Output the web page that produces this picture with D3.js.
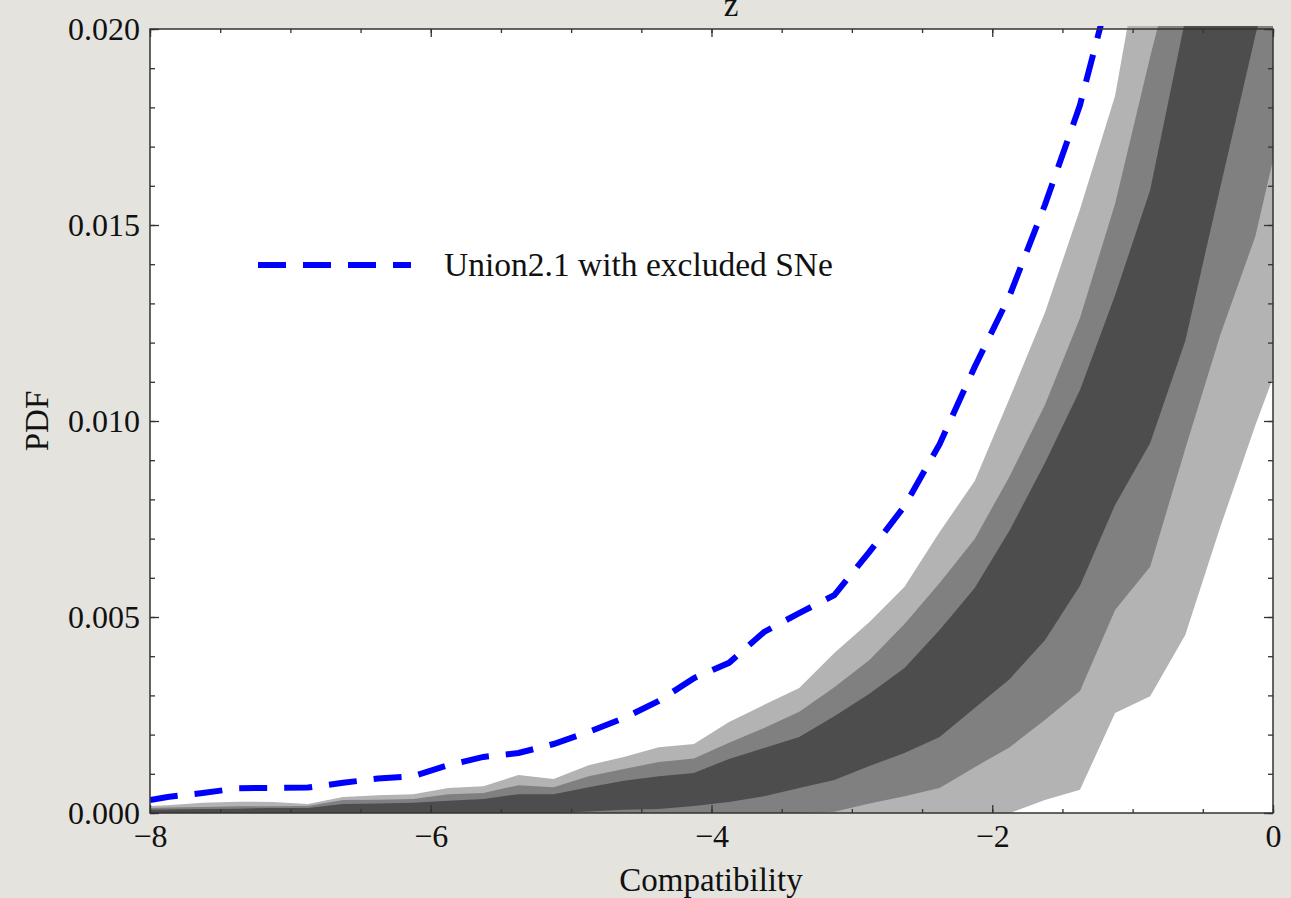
<!DOCTYPE html>
<html>
<head>
  <meta charset="utf-8">
  <title>PDF vs Compatibility</title>
  <style>
    body { margin: 0; background: #e4e3de; }
    svg { display: block; }
    .tick text { font-family: "Liberation Serif", "DejaVu Serif", serif; font-size: 32px; fill: #111; }
    .tick line { stroke: #333; stroke-width: 1.3; }
    .lbl { font-family: "Liberation Serif", "DejaVu Serif", serif; font-size: 33px; fill: #111; }
  </style>
</head>
<body>
<script src="https://cdn.jsdelivr.net/npm/d3@7"></script>
<script>
// compatibility grid (bin centres plus the two ends)
const compat = [-8, -7.875, -7.625, -7.375, -7.125, -6.875, -6.625, -6.375, -6.125, -5.875,
  -5.625, -5.375, -5.125, -4.875, -4.625, -4.375, -4.125, -3.875, -3.625, -3.375,
  -3.125, -2.875, -2.625, -2.375, -2.125, -1.875, -1.625, -1.375, -1.125, -0.875,
  -0.625, -0.375, -0.125, 0];

// PDF values, in units of 1e-3
const union21 = [0.33, 0.41, 0.51, 0.63, 0.64, 0.65, 0.77, 0.88, 0.94, 1.22,
  1.43, 1.53, 1.76, 2.07, 2.42, 2.86, 3.44, 3.83, 4.62, 5.10,
  5.56, 6.66, 7.83, 9.41, 11.38, 13.21, 15.51, 18.06, 21.5, null,
  null, null, null, null];

// outer band (light)
const outerLo = [0, 0, 0, 0, 0, 0, 0, 0, 0, 0,
  0, 0, 0, 0, 0, 0, 0, 0, 0, 0,
  0, 0, 0, 0, 0, 0, 0.33, 0.59, 2.55, 2.98,
  4.54, 7.3, 9.9, 11.1];
const outerHi = [0.18, 0.20, 0.26, 0.29, 0.28, 0.23, 0.41, 0.45, 0.48, 0.64,
  0.68, 0.97, 0.87, 1.22, 1.43, 1.68, 1.76, 2.32, 2.76, 3.19,
  4.08, 4.87, 5.77, 7.17, 8.47, 10.59, 12.76, 15.4, 18.3, 23.3,
  25, 27, 29, 30];

// middle band
const midLo = [0, 0, 0, 0, 0, 0, 0, 0, 0, 0,
  0, 0, 0, 0, 0, 0, 0, 0, 0, 0,
  0.03, 0.24, 0.43, 0.64, 1.17, 1.68, 2.37, 3.11, 5.18, 6.28,
  9.29, 12.2, 14.72, 16.66];
const midHi = [0.13, 0.14, 0.15, 0.17, 0.17, 0.18, 0.33, 0.34, 0.36, 0.48,
  0.51, 0.71, 0.66, 0.94, 1.12, 1.30, 1.39, 1.79, 2.17, 2.58,
  3.21, 3.90, 4.82, 5.87, 6.99, 8.60, 10.41, 12.63, 15.54, 19.29,
  22.8, 26, 28, 29];

// inner band (dark)
const innerLo = [0, 0, 0, 0, 0, 0, 0, 0, 0, 0,
  0, 0, 0, 0.04, 0.08, 0.10, 0.18, 0.28, 0.43, 0.64,
  0.84, 1.20, 1.53, 1.94, 2.68, 3.42, 4.41, 5.8, 7.86, 9.44,
  12.04, 15.97, 19.85, 21.5];
const innerHi = [0.08, 0.09, 0.10, 0.11, 0.13, 0.13, 0.23, 0.24, 0.26, 0.31,
  0.36, 0.48, 0.48, 0.66, 0.82, 0.94, 1.02, 1.38, 1.66, 1.94,
  2.47, 3.04, 3.70, 4.67, 5.74, 7.22, 8.93, 10.79, 13.21, 15.89,
  20.25, 24, 26, 27];

const xMajor = [-8, -6, -4, -2, 0];
const yMajor = [0, 0.005, 0.010, 0.015, 0.020];

const W = 1291, H = 898;
const margin = { top: 29, right: 18, bottom: 85, left: 150 };
const width = W - margin.left - margin.right;
const height = H - margin.top - margin.bottom;

const svg = d3.select("body").append("svg")
  .attr("width", W)
  .attr("height", H);

const g = svg.append("g")
  .attr("transform", `translate(${margin.left},${margin.top})`);

const x = d3.scaleLinear().domain([-8, 0]).range([0, width]);
const y = d3.scaleLinear().domain([0, 0.02]).range([height, 0]);

// plot background
g.append("rect").attr("width", width).attr("height", height).attr("fill", "#fff");

g.append("clipPath").attr("id", "clip")
  .append("rect").attr("x", 0).attr("y", -3).attr("width", width).attr("height", height + 3);

const plot = g.append("g").attr("clip-path", "url(#clip)");

const bands = [
  { lo: outerLo, hi: outerHi, color: "#b3b3b3" },
  { lo: midLo, hi: midHi, color: "#808080" },
  { lo: innerLo, hi: innerHi, color: "#4d4d4d" }
];

const area = d3.area()
  .x(d => x(d.x))
  .y0(d => y(d.lo))
  .y1(d => y(d.hi));

bands.forEach(b => {
  const rows = compat.map((c, i) => ({ x: c, lo: b.lo[i] / 1000, hi: b.hi[i] / 1000 }));
  plot.append("path")
    .datum(rows)
    .attr("d", area)
    .attr("fill", b.color);
});

const line = d3.line()
  .defined(d => d.v != null)
  .x(d => x(d.x))
  .y(d => y(d.v));

plot.append("path")
  .datum(compat.map((c, i) => ({ x: c, v: union21[i] == null ? null : union21[i] / 1000 })))
  .attr("d", line)
  .attr("fill", "none")
  .attr("stroke", "#0000ff")
  .attr("stroke-width", 6)
  .attr("stroke-dasharray", "28,17");

// axes: ticks point inward on all four sides
const xMinor = d3.range(-8, 0.01, 0.5);
const yMinor = d3.range(0, 0.0201, 0.001);

function addAxis(axis, transform) {
  const a = g.append("g").attr("transform", transform).call(axis);
  a.select(".domain").remove();
  return a;
}

addAxis(d3.axisBottom(x).tickValues(xMinor).tickSize(-4).tickFormat(""), `translate(0,${height})`);
addAxis(d3.axisBottom(x).tickValues(xMajor).tickSize(-8).tickPadding(11).tickFormat(d3.format("d")), `translate(0,${height})`);
addAxis(d3.axisTop(x).tickValues(xMinor).tickSize(-4).tickFormat(""), "translate(0,0)");
addAxis(d3.axisTop(x).tickValues(xMajor).tickSize(-8).tickFormat(""), "translate(0,0)");

addAxis(d3.axisLeft(y).tickValues(yMinor).tickSize(-5).tickFormat(""), "translate(0,0)");
addAxis(d3.axisLeft(y).tickValues(yMajor).tickSize(-9).tickPadding(10).tickFormat(d3.format(".3f")), "translate(0,0)");
addAxis(d3.axisRight(y).tickValues(yMinor).tickSize(-5).tickFormat(""), `translate(${width},0)`);
addAxis(d3.axisRight(y).tickValues(yMajor).tickSize(-9).tickFormat(""), `translate(${width},0)`);

// frame
g.append("rect")
  .attr("width", width).attr("height", height)
  .attr("fill", "none")
  .attr("stroke", "#333")
  .attr("stroke-width", 1.5);

// labels
svg.append("text").attr("class", "lbl")
  .attr("x", 711).attr("y", 891)
  .attr("text-anchor", "middle")
  .text("Compatibility");

svg.append("text").attr("class", "lbl")
  .attr("transform", "translate(48,421) rotate(-90)")
  .attr("text-anchor", "middle")
  .text("PDF");

svg.append("text").attr("class", "lbl")
  .attr("x", 731).attr("y", 16)
  .attr("text-anchor", "middle")
  .text("z");

// legend
const lg = svg.append("g");
lg.append("line")
  .attr("x1", 258).attr("x2", 411)
  .attr("y1", 265).attr("y2", 265)
  .attr("stroke", "#0000ff")
  .attr("stroke-width", 6)
  .attr("stroke-dasharray", "28,17");
lg.append("text").attr("class", "lbl")
  .style("font-size", "33.5px")
  .attr("x", 444).attr("y", 276)
  .text("Union2.1 with excluded SNe");
</script>
</body>
</html>
